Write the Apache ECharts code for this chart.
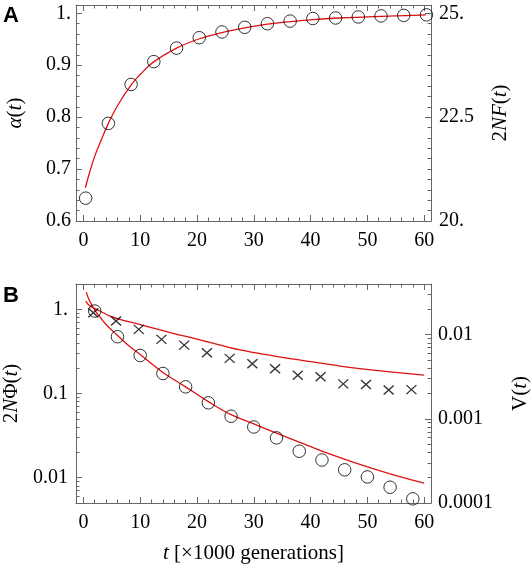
<!DOCTYPE html>
<html><head><meta charset="utf-8">
<script src="https://cdn.jsdelivr.net/npm/echarts@6/dist/echarts.min.js"></script>
<style>html,body{margin:0;padding:0;background:#fff}#c{width:531px;height:571px}</style>
</head><body><div id="c"></div>
<script>
// ---------- data ----------
// Panel A
const tTopCirc = [0.4, 4.4, 8.4, 12.4, 16.4, 20.4, 24.4, 28.4, 32.4, 36.4, 40.4, 44.4, 48.4, 52.4, 56.4, 60.4];
const alphaCirc = [0.644, 0.788, 0.863, 0.907, 0.933, 0.953, 0.964, 0.973, 0.980, 0.985, 0.990, 0.991, 0.993, 0.995, 0.996, 0.997];
const tTopLine = [0.35, 1, 2, 3, 4.4, 6, 8.4, 10, 12.3, 16.4, 20.4, 24.4, 28.4, 32.4, 36.4, 40.4, 45, 50, 55, 60.3];
const alphaLine = [0.664, 0.69, 0.725, 0.752, 0.788, 0.822, 0.862, 0.882, 0.906, 0.933, 0.951, 0.963, 0.972, 0.979, 0.984, 0.988, 0.991, 0.993, 0.995, 0.997];
// Panel B
const tPhi = [2, 6, 10, 14, 18, 22, 26, 30, 34, 38, 42, 46, 50, 54, 58];
const phiCirc = [0.955, 0.473, 0.283, 0.173, 0.120, 0.0775, 0.0537, 0.040, 0.0297, 0.0206, 0.0162, 0.0124, 0.0102, 0.0077, 0.0056];
const tPhiLine = [0.5, 1, 2, 3, 4, 6, 8, 10, 14, 18, 22, 26, 30, 34, 38, 42, 48, 54, 60];
const phiLine = [1.6, 1.3, 0.98, 0.8, 0.66, 0.49, 0.37, 0.29, 0.178, 0.12, 0.08, 0.056, 0.0435, 0.0338, 0.0265, 0.0207, 0.0149, 0.0111, 0.0086];
const tV = [1.75, 5.75, 9.75, 13.75, 17.75, 21.75, 25.75, 29.75, 33.75, 37.75, 41.75, 45.75, 49.75, 53.75, 57.75];
const vCross = [0.0182, 0.01452, 0.01156, 0.0088, 0.00752, 0.0061, 0.00522, 0.00452, 0.00394, 0.0033, 0.00316, 0.0026, 0.00256, 0.0022, 0.00222];
const tVLine = [0.4, 1, 2, 3, 4.7, 7, 10, 15.3, 20.5, 27.6, 33.5, 39.3, 45.2, 51.1, 60];
const vLine = [0.025, 0.0224, 0.0204, 0.019, 0.0166, 0.0148, 0.0132, 0.0106, 0.0087, 0.0066, 0.0056, 0.00486, 0.00424, 0.0038, 0.0033];

// ---------- ticks ----------
const xMajor = [0, 10, 20, 30, 40, 50, 60];
const xLabels = ['0', '10', '20', '30', '40', '50', '60'];
const xMinor = [2,4,6,8,12,14,16,18,22,24,26,28,32,34,36,38,42,44,46,48,52,54,56,58];
const alphaMajor = [0.6, 0.7, 0.8, 0.9, 1.0];
const alphaLabels = ['0.6', '0.7', '0.8', '0.9', '1.'];
const alphaMinor = [0.62,0.64,0.66,0.68,0.72,0.74,0.76,0.78,0.82,0.84,0.86,0.88,0.92,0.94,0.96,0.98];
const fMajor = [20, 22.5, 25];
const fLabels = ['20.', '22.5', '25.'];
const fMinor = [20.25,20.5,20.75,21,21.25,21.5,21.75,22,22.25,22.75,23,23.25,23.5,23.75,24,24.25,24.5,24.75];
const phiMajor = [0.01, 0.1, 1];
const phiLabels = ['0.01', '0.1', '1.'];
const phiMinor = [0.006,0.007,0.008,0.009,0.02,0.03,0.04,0.05,0.06,0.07,0.08,0.09,0.2,0.3,0.4,0.5,0.6,0.7,0.8,0.9];
const vMajor = [0.0001, 0.001, 0.01];
const vLabels = ['0.0001', '0.001', '0.01'];
const vMinor = [0.0002,0.0003,0.0004,0.0005,0.0006,0.0007,0.0008,0.0009,0.002,0.003,0.004,0.005,0.006,0.007,0.008,0.009,0.02,0.03];

const X_MIN = -1.3, X_MAX = 61.2;
const AX = '#666';
const RED = '#e01010';
const SERIF = 'Liberation Serif';
const zip = (a, b) => a.map((v, i) => [v, b[i]]);
const lab = (vals, labels) => (v) => {
  for (let i = 0; i < vals.length; i++) if (Math.abs(vals[i] - v) <= Math.abs(vals[i]) * 1e-6 + 1e-12) return labels[i];
  return '';
};
const labelFont = {fontFamily: SERIF, fontSize: 20, color: '#000'};
const nameStyle = {fontFamily: SERIF, fontSize: 21, color: '#000',
  rich: {i: {fontFamily: SERIF, fontSize: 21, fontStyle: 'italic', color: '#000'}}};

function axis(common, major, minor, isMajor, labels, margin) {
  const o = Object.assign({splitLine: {show: false}, axisPointer: {show: false}}, common);
  o.axisLine = {show: isMajor, onZero: false, lineStyle: {color: AX, width: 1}};
  o.axisTick = {show: true, inside: true, length: isMajor ? 6 : 3.5,
    customValues: isMajor ? major : minor, lineStyle: {color: AX, width: 1}};
  if (isMajor && labels) {
    o.axisLabel = Object.assign({show: true, customValues: major, formatter: lab(major, labels), margin: margin}, labelFont);
  } else {
    o.axisLabel = {show: false};
  }
  o.minorTick = {show: false};
  return o;
}

const xAxes = [];
const yAxes = [];
for (let g = 0; g < 2; g++) {
  const c = {type: 'value', gridIndex: g, min: X_MIN, max: X_MAX};
  const bottomMajor = axis(Object.assign({position: 'bottom'}, c), xMajor, xMinor, true, xLabels, 10);
  if (g === 1) {
    bottomMajor.name = '{i|t} [×1000 generations]';
    bottomMajor.nameLocation = 'middle';
    bottomMajor.nameGap = 40;
    bottomMajor.nameTextStyle = nameStyle;
  }
  xAxes.push(bottomMajor);                                                     // 0 / 4
  xAxes.push(axis(Object.assign({position: 'bottom'}, c), xMajor, xMinor, false)); // 1 / 5
  xAxes.push(axis(Object.assign({position: 'top'}, c), xMajor, xMinor, true, null)); // 2 / 6
  xAxes.push(axis(Object.assign({position: 'top'}, c), xMajor, xMinor, false));    // 3 / 7
}
// Panel A y axes
const yA = {type: 'value', gridIndex: 0, min: 0.6, max: 1.016};
const yAL = axis(Object.assign({position: 'left'}, yA), alphaMajor, alphaMinor, true, alphaLabels, 5);
Object.assign(yAL, {name: '{i|α}({i|t})', nameLocation: 'middle', nameGap: 50, nameRotate: 90, nameTextStyle: nameStyle});
yAxes.push(yAL);                                                                     // 0
yAxes.push(axis(Object.assign({position: 'left'}, yA), alphaMajor, alphaMinor, false)); // 1
const yF = {type: 'value', gridIndex: 0, min: 20, max: 25.2};
const yAR = axis(Object.assign({position: 'right'}, yF), fMajor, fMinor, true, fLabels, 8);
Object.assign(yAR, {name: '2{i|NF}({i|t})', nameLocation: 'middle', nameGap: 59, nameRotate: 90, nameTextStyle: nameStyle});
yAxes.push(yAR);                                                                     // 2
yAxes.push(axis(Object.assign({position: 'right'}, yF), fMajor, fMinor, false));      // 3
// Panel B y axes
const yP = {type: 'log', logBase: 10, gridIndex: 1, min: 0.005, max: 2};
const yBL = axis(Object.assign({position: 'left'}, yP), phiMajor, phiMinor, true, phiLabels, 8);
Object.assign(yBL, {name: '2{i|N}Φ({i|t})', nameLocation: 'middle', nameGap: 54, nameRotate: 90, nameTextStyle: nameStyle});
yAxes.push(yBL);                                                                     // 4
yAxes.push(axis(Object.assign({position: 'left'}, yP), phiMajor, phiMinor, false));   // 5
const yV = {type: 'log', logBase: 10, gridIndex: 1, min: 0.0001, max: 0.04};
const yBR = axis(Object.assign({position: 'right'}, yV), vMajor, vMinor, true, vLabels, 7);
Object.assign(yBR, {name: 'V({i|t})', nameLocation: 'middle', nameGap: 79, nameRotate: 90, nameTextStyle: nameStyle});
yAxes.push(yBR);                                                                     // 6
yAxes.push(axis(Object.assign({position: 'right'}, yV), vMajor, vMinor, false));      // 7

const circleStyle = {color: 'rgba(0,0,0,0)', borderColor: '#000', borderWidth: 1};
const lineStyle = {color: RED, width: 1.3};

const option = {
  animation: false,
  backgroundColor: '#fff',
  title: [
    {text: 'A', left: 3, top: 5, padding: 0, textStyle: {fontFamily: 'Liberation Sans', fontWeight: 'bold', fontSize: 22, color: '#000'}},
    {text: 'B', left: 3, top: 285, padding: 0, textStyle: {fontFamily: 'Liberation Sans', fontWeight: 'bold', fontSize: 22, color: '#000'}}
  ],
  grid: [
    {left: 76, top: 5, width: 355, height: 216, containLabel: false, outerBoundsMode: 'none'},
    {left: 76, top: 284, width: 355, height: 219, containLabel: false, outerBoundsMode: 'none'}
  ],
  xAxis: xAxes,
  yAxis: yAxes,
  series: [
    {type: 'line', xAxisIndex: 0, yAxisIndex: 0, data: zip(tTopLine, alphaLine), smooth: 0.4,
      showSymbol: false, lineStyle: lineStyle, itemStyle: {color: RED}, silent: true, z: 2},
    {type: 'scatter', xAxisIndex: 0, yAxisIndex: 0, data: zip(tTopCirc, alphaCirc), symbol: 'circle',
      symbolSize: 12.5, itemStyle: circleStyle, silent: true, z: 3},
    {type: 'line', xAxisIndex: 4, yAxisIndex: 4, data: zip(tPhiLine, phiLine), smooth: 0.4,
      showSymbol: false, lineStyle: lineStyle, itemStyle: {color: RED}, silent: true, z: 2},
    {type: 'scatter', xAxisIndex: 4, yAxisIndex: 4, data: zip(tPhi, phiCirc), symbol: 'circle',
      symbolSize: 12.5, itemStyle: circleStyle, silent: true, z: 3},
    {type: 'line', xAxisIndex: 4, yAxisIndex: 6, data: zip(tVLine, vLine), smooth: 0.4,
      showSymbol: false, lineStyle: lineStyle, itemStyle: {color: RED}, silent: true, z: 2},
    {type: 'scatter', xAxisIndex: 4, yAxisIndex: 6, data: zip(tV, vCross), symbol: 'path://M0,0L10,10M10,0L0,10',
      symbolSize: [10, 9], itemStyle: {color: 'none', borderColor: '#000', borderWidth: 1.3}, silent: true, z: 3}
  ]
};
const chart = echarts.init(document.getElementById('c'), null, {renderer: 'canvas'});
chart.setOption(option);
</script>
</body></html>
